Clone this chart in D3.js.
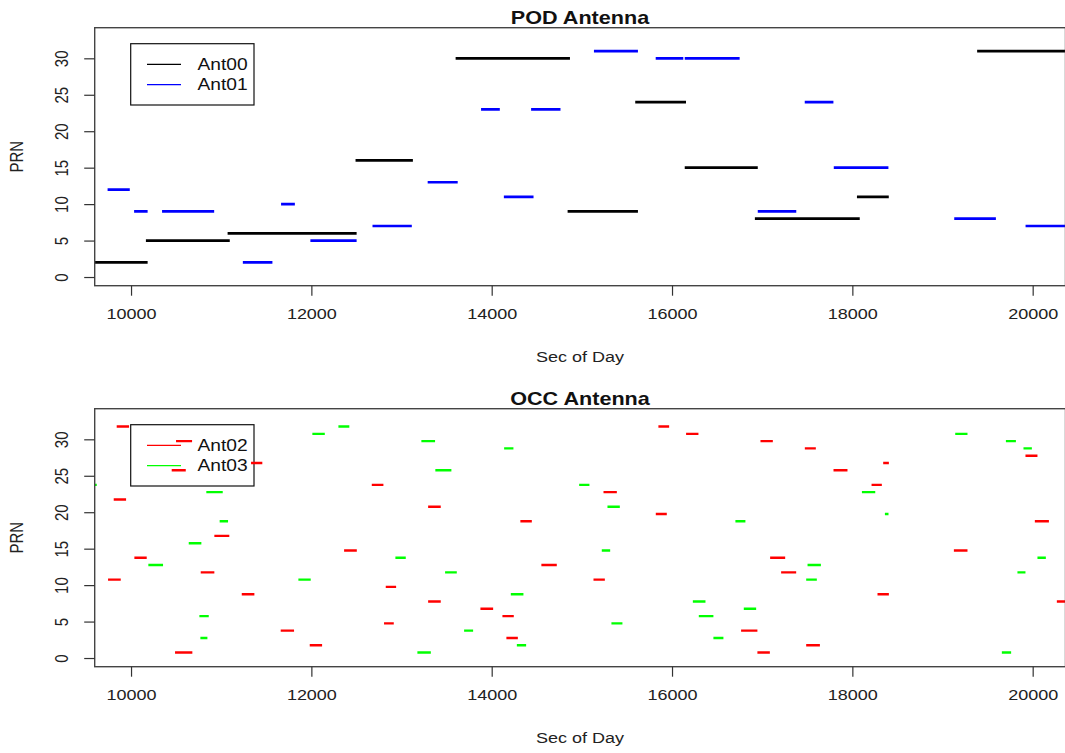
<!DOCTYPE html>
<html>
<head>
<meta charset="utf-8">
<script src="https://cdn.jsdelivr.net/npm/d3@7"></script>
<style>
  body { margin: 0; background: #fff; }
  svg { display: block; font-family: "Liberation Sans", Arial, sans-serif; }
</style>
</head>
<body>
<svg id="chart" width="1065" height="753"></svg>
<script>
// POD antenna, Ant00 (black)
const ant00Prn   = [2, 5, 6, 16, 30, 9, 24, 15, 8, 11, 31];
const ant00Start = [9597, 10165, 11071, 12490, 13600, 14842, 15592, 16141, 16919, 18051, 19384];
const ant00End   = [10184, 11095, 12502, 13126, 14868, 15622, 16155, 16951, 18082, 18404, 20400];

// POD antenna, Ant01 (blue)
const ant01Prn   = [12, 9, 9, 2, 10, 5, 7, 13, 23, 11, 23, 31, 30, 30, 9, 24, 15, 8, 7];
const ant01Start = [9740, 10034, 10344, 11240, 11664, 11989, 12678, 13290, 13882, 14135, 14437, 15134, 15819, 16141, 16951, 17472, 17794, 19130, 19921];
const ant01End   = [9986, 10184, 10922, 11568, 11817, 12502, 13114, 13623, 14090, 14464, 14763, 15622, 16125, 16750, 17378, 17790, 18400, 19592, 20400];

// OCC antenna, Ant02 (red)
const ant02Prn   = [32, 30, 26, 27, 22, 17, 14, 11, 12, 9, 1, 4, 2, 24, 15, 10, 5,
                    32, 31, 23, 21, 19, 20, 13, 11, 8, 7, 6, 3,
                    30, 29, 27, 26, 24, 28, 19, 15, 14, 12, 9, 8, 4, 2, 1];
const ant02Start = [9841, 10499, 10451, 11331, 9808, 10924, 10037, 9745, 10773, 11228, 10488, 11660, 11982, 12670, 12363, 12825, 12806,
                    15849, 16156, 15240, 13295, 14318, 15820, 14551, 15129, 13295, 13875, 14119, 14163,
                    16981, 17473, 18342, 17791, 18213, 19920, 20024, 19126, 17088, 17210, 18279, 20268, 16766, 17488, 16947];
const ant02End   = [9978, 10677, 10607, 11456, 9945, 11090, 10174, 9886, 10924, 11368, 10680, 11808, 12119, 12799, 12504, 12940, 12914,
                    15968, 16293, 15388, 13435, 14445, 15942, 14722, 15255, 13435, 14016, 14245, 14290,
                    17118, 17595, 18405, 17946, 18327, 20053, 20180, 19277, 17255, 17377, 18405, 20400, 16947, 17640, 17085];

// OCC antenna, Ant03 (green)
const ant03Prn   = [31, 32, 23, 19, 16, 13, 11, 14, 6, 3, 24,
                    30, 29, 26, 24, 21, 19, 15, 12, 9, 8, 6, 5, 4, 2, 1, 3,
                    31, 30, 29, 23, 20, 13, 11, 14, 12, 7, 1];
const ant03Start = [12011, 12300, 10835, 10983, 10640, 10192, 11856, 12932, 10758, 10769, 9500,
                    13220, 14138, 13375, 14970, 15284, 16703, 15221, 13483, 14212, 16231, 16297, 15328, 13694, 14279, 13176, 16459,
                    19141, 19703, 19898, 18106, 18361, 17503, 17488, 20053, 19831, 16796, 19658];
const ant03End   = [12149, 12421, 11017, 11076, 10780, 10355, 11993, 13047, 10862, 10847, 9620,
                    13372, 14241, 13553, 15084, 15421, 16814, 15314, 13613, 14352, 16371, 16459, 15450, 13794, 14382, 13325, 16570,
                    19277, 19814, 19991, 18254, 18401, 17651, 17606, 20146, 19920, 16933, 19761];

const xTicks = [10000, 12000, 14000, 16000, 18000, 20000];
const yTicks = [0, 5, 10, 15, 20, 25, 30];

const stretch = 1.2;   // the picture is a bit wider than tall
const plotLeft = 94.7, plotRight = 1065.5, plotHeight = 258;

const svg = d3.select("#chart");

const x = d3.scaleLinear().domain([9597, 20364]).range([plotLeft, plotRight]);

const toSegments = (prn, start, end) => prn.map((p, i) => ({ prn: p, x0: start[i], x1: end[i] }));

const panels = [
  {
    title: "POD Antenna", top: 27.7, id: "pod", nudge: 0, lw: 2.7,
    series: [
      { name: "Ant00", color: "#000000", segs: toSegments(ant00Prn, ant00Start, ant00End) },
      { name: "Ant01", color: "#0000ff", segs: toSegments(ant01Prn, ant01Start, ant01End) }
    ]
  },
  {
    title: "OCC Antenna", top: 408.7, id: "occ", nudge: 1.8, lw: 2.4,
    series: [
      { name: "Ant02", color: "#ff0000", segs: toSegments(ant02Prn, ant02Start, ant02End) },
      { name: "Ant03", color: "#00ff00", segs: toSegments(ant03Prn, ant03Start, ant03End) }
    ]
  }
];

panels.forEach(panel => {
  const top = panel.top;
  const y = d3.scaleLinear().domain([-1.19, 34.2]).range([top + plotHeight, top]);

  svg.append("clipPath")
    .attr("id", "clip-" + panel.id)
    .append("rect")
    .attr("x", plotLeft)
    .attr("y", top)
    .attr("width", plotRight - plotLeft)
    .attr("height", plotHeight);

  // legend (drawn first, segments go over it)
  const legend = svg.append("g");
  legend.append("rect")
    .attr("x", 130.7)
    .attr("y", top + 16)
    .attr("width", 123.3)
    .attr("height", 61.3)
    .attr("fill", "none")
    .attr("stroke", "#111")
    .attr("stroke-width", 1.2);

  panel.series.forEach((s, i) => {
    const ly = top + 36.6 + i * 20.4;
    legend.append("line")
      .attr("x1", 147).attr("x2", 181)
      .attr("y1", ly).attr("y2", ly)
      .attr("stroke", s.color)
      .attr("stroke-width", 1.3);
    legend.append("text")
      .attr("transform", `translate(197.5, ${ly}) scale(${stretch},1)`)
      .attr("dy", "0.36em")
      .style("font-size", "16px")
      .attr("fill", "#111")
      .text(s.name);
  });

  // segments
  const segLayer = svg.append("g")
    .attr("clip-path", `url(#clip-${panel.id})`)
    .append("g")
    .attr("transform", `translate(0, ${panel.nudge})`);
  panel.series.forEach(s => {
    segLayer.selectAll(null)
      .data(s.segs)
      .enter()
      .append("line")
      .attr("x1", d => x(d.x0))
      .attr("x2", d => x(d.x1))
      .attr("y1", d => y(d.prn))
      .attr("y2", d => y(d.prn))
      .attr("stroke", s.color)
      .attr("stroke-width", panel.lw);
  });

  // box
  svg.append("rect")
    .attr("x", plotLeft)
    .attr("y", top)
    .attr("width", plotRight - plotLeft)
    .attr("height", plotHeight)
    .attr("fill", "none")
    .attr("stroke", "#444")
    .attr("stroke-width", 1.4);

  // x axis
  const xAxis = svg.append("g")
    .attr("transform", `translate(0, ${top + plotHeight})`)
    .call(d3.axisBottom(x).tickValues(xTicks).tickFormat(d3.format("d")).tickSize(10).tickSizeOuter(0));
  xAxis.select(".domain").remove();
  xAxis.selectAll(".tick line").attr("stroke", "#333").attr("stroke-width", 1.2);
  xAxis.selectAll(".tick text")
    .attr("y", 0)
    .attr("dy", 0)
    .attr("transform", `translate(0, 33.6) scale(${stretch},1)`)
    .style("font-size", "15px")
    .style("font-family", "Liberation Sans, Arial, sans-serif")
    .attr("fill", "#222");

  // y axis
  const yAxis = svg.append("g")
    .attr("transform", `translate(${plotLeft}, 0)`)
    .call(d3.axisLeft(y).tickValues(yTicks).tickSize(10.5).tickSizeOuter(0));
  yAxis.select(".domain").remove();
  yAxis.selectAll(".tick line").attr("stroke", "#333").attr("stroke-width", 1.2);
  yAxis.selectAll(".tick text")
    .attr("x", 0)
    .attr("dy", 0)
    .attr("text-anchor", "middle")
    .attr("transform", `translate(-26.7, 0) scale(${stretch},1) rotate(-90)`)
    .style("font-size", "15px")
    .style("font-family", "Liberation Sans, Arial, sans-serif")
    .attr("fill", "#222");

  // titles and labels
  svg.append("text")
    .attr("transform", `translate(580, ${top - 3.4}) scale(${stretch},1)`)
    .attr("text-anchor", "middle")
    .style("font-size", "18px")
    .style("font-weight", "bold")
    .attr("fill", "#111")
    .text(panel.title);

  svg.append("text")
    .attr("transform", `translate(580, ${top + 334.3}) scale(${stretch},1)`)
    .attr("text-anchor", "middle")
    .style("font-size", "15px")
    .attr("fill", "#222")
    .text("Sec of Day");

  svg.append("text")
    .attr("transform", `translate(23, ${top + 129}) scale(${stretch},1) rotate(-90)`)
    .attr("text-anchor", "middle")
    .style("font-size", "15px")
    .attr("fill", "#222")
    .text("PRN");
});
</script>
</body>
</html>
